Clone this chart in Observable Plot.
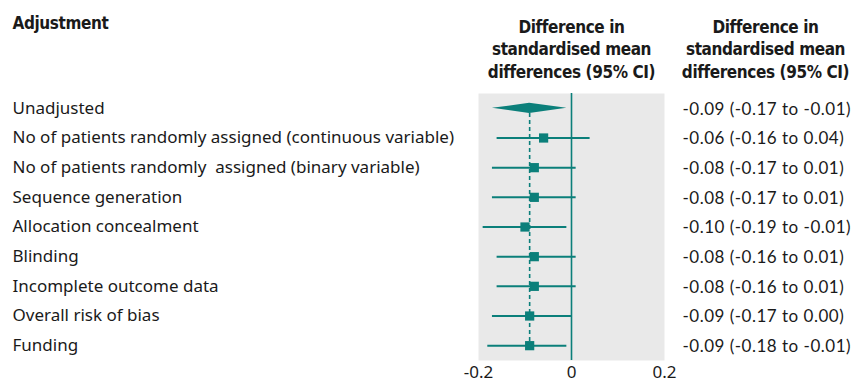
<!DOCTYPE html>
<html><head><meta charset="utf-8">
<script src="https://cdn.jsdelivr.net/npm/d3@7"></script>
<script src="https://cdn.jsdelivr.net/npm/@observablehq/plot@0.6"></script>
<style>body{margin:0;background:#fff}</style>
</head><body><div id="chart"></div>
<script>
const labels = [
  "Unadjusted",
  "No of patients randomly assigned (continuous variable)",
  "No of patients randomly  assigned (binary variable)",
  "Sequence generation",
  "Allocation concealment",
  "Blinding",
  "Incomplete outcome data",
  "Overall risk of bias",
  "Funding"
];
const estimates = [-0.09, -0.06, -0.08, -0.08, -0.10, -0.08, -0.08, -0.09, -0.09];
const lower = [-0.17, -0.16, -0.17, -0.17, -0.19, -0.16, -0.16, -0.17, -0.18];
const upper = [-0.01, 0.04, 0.01, 0.01, -0.01, 0.01, 0.01, 0.00, -0.01];
const valueTexts = [
  "-0.09 (-0.17 to -0.01)",
  "-0.06 (-0.16 to 0.04)",
  "-0.08 (-0.17 to 0.01)",
  "-0.08 (-0.17 to 0.01)",
  "-0.10 (-0.19 to -0.01)",
  "-0.08 (-0.16 to 0.01)",
  "-0.08 (-0.16 to 0.01)",
  "-0.09 (-0.17 to 0.00)",
  "-0.09 (-0.18 to -0.01)"
];
const xTicks = [-0.2, 0, 0.2];
const headerLeft = "Adjustment";
const headerMid = "Difference in\nstandardised mean\ndifferences (95% CI)";
const headerRight = "Difference in\nstandardised mean\ndifferences (95% CI)";

const rows = labels.map((label, i) => ({
  i, label, est: estimates[i], lo: lower[i], hi: upper[i], txt: valueTexts[i]
}));
const pooled = rows[0];
const studies = rows.slice(1);
const dh = 0.17; // diamond half height in row units
const diamond = [
  {y: pooled.i - dh, x1: pooled.est, x2: pooled.est},
  {y: pooled.i, x1: pooled.lo, x2: pooled.hi},
  {y: pooled.i + dh, x1: pooled.est, x2: pooled.est}
];

const teal = "#0b7f7a";
const textColor = "#1a1a1a";
const hdrFont = "'Liberation Sans Narrow', 'DejaVu Sans Condensed', sans-serif";

const chart = Plot.plot({
  width: 852,
  height: 383,
  marginLeft: 478,
  marginRight: 188,
  marginTop: 93,
  marginBottom: 23,
  style: {fontFamily: "'Noto Sans', sans-serif", fontSize: "17px", color: textColor, background: "#fff", overflow: "visible"},
  x: {domain: [-0.2, 0.2], ticks: xTicks, tickFormat: d => d === 0 ? "0" : d.toFixed(1), tickSize: 0, tickPadding: 5, label: null},
  y: {domain: [-0.5, labels.length - 0.5], reverse: true, axis: null},
  marks: [
    Plot.frame({fill: "#e9e9e9", stroke: null}),
    Plot.ruleX([0], {stroke: teal, strokeWidth: 1.6}),
    Plot.ruleX([pooled.est], {y1: pooled.i + dh, y2: labels.length - 1, stroke: teal, strokeWidth: 1.6, strokeDasharray: "4,3"}),
    Plot.ruleY(studies, {y: "i", x1: "lo", x2: "hi", stroke: teal, strokeWidth: 2}),
    Plot.dot(studies, {x: "est", y: "i", symbol: "square", r: 5.2, fill: teal, stroke: null}),
    Plot.areaX(diamond, {y: "y", x1: "x1", x2: "x2", fill: teal, curve: "linear"}),
    Plot.text(rows, {y: "i", text: "label", frameAnchor: "left", dx: -466, textAnchor: "start", fontSize: 17, fill: textColor}),
    Plot.text(rows, {y: "i", text: "txt", frameAnchor: "right", dx: 18, dy: 1, textAnchor: "start", fontSize: 17, fontFamily: "Lato, sans-serif", fill: textColor}),
    Plot.text([headerLeft], {text: d => d, frameAnchor: "top-left", dx: -466, dy: -77, textAnchor: "start", lineAnchor: "top", fontWeight: "bold", fontSize: 17, fontFamily: hdrFont, fill: textColor}),
    Plot.text([headerMid], {text: d => d, frameAnchor: "top", dy: -77, textAnchor: "middle", lineAnchor: "top", lineHeight: 1.33, fontWeight: "bold", fontSize: 17, fontFamily: hdrFont, fill: textColor}),
    Plot.text([headerRight], {text: d => d, frameAnchor: "top-right", dx: 101, dy: -77, textAnchor: "middle", lineAnchor: "top", lineHeight: 1.33, fontWeight: "bold", fontSize: 17, fontFamily: hdrFont, fill: textColor})
  ]
});
// letter spacing tweaks for text groups (values column and headers)
const textGroups = chart.querySelectorAll('g[aria-label="text"]');
if (textGroups[1]) textGroups[1].setAttribute("letter-spacing", "0.5");
for (let k = 2; k < textGroups.length; k++) textGroups[k].setAttribute("letter-spacing", "-0.4");
document.getElementById("chart").appendChild(chart);
</script>
</body></html>
